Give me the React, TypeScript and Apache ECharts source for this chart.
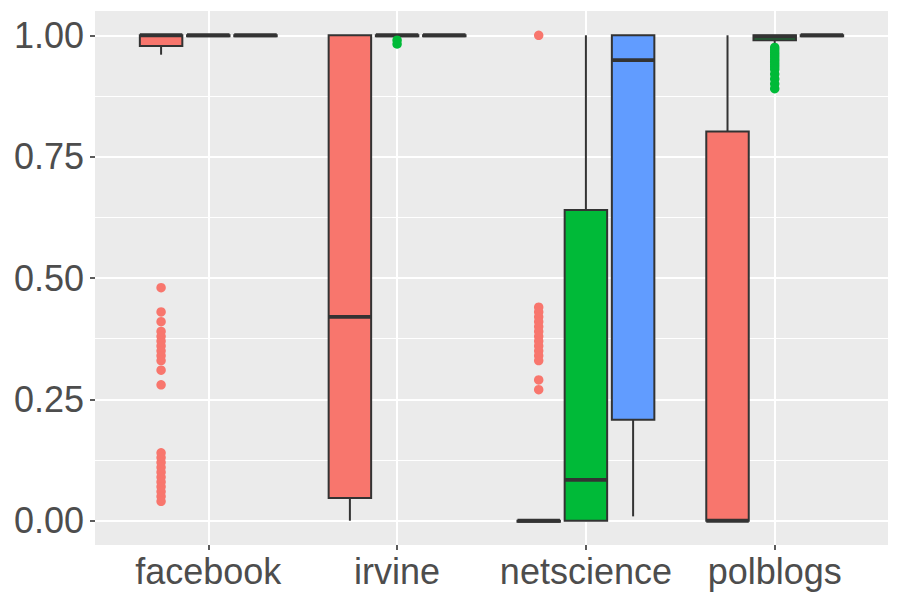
import React, { useEffect, useRef } from "react";
import * as echarts from "echarts";

const categories = ["facebook", "irvine", "netscience", "polblogs"];
const categoryPositions = [1, 2, 3, 4];
const groupColors = ["#F8766D", "#00BA38", "#619CFF"];
const yTicks = [0, 0.25, 0.5, 0.75, 1];
const yMinorTicks = [0.125, 0.375, 0.625, 0.875];

// [min, Q1, median, Q3, max] for each category
const redStats = [
  [0.96, 0.978, 1.0, 1.0, 1.0],
  [0.0, 0.047, 0.42, 1.0, 1.0],
  [0.0, 0.0, 0.0, 0.0, 0.0],
  [0.0, 0.0, 0.0, 0.802, 1.0],
];
const greenStats = [
  [1.0, 1.0, 1.0, 1.0, 1.0],
  [1.0, 1.0, 1.0, 1.0, 1.0],
  [0.0, 0.0, 0.084, 0.64, 1.0],
  [0.979, 0.99, 0.997, 1.0, 1.0],
];
const blueStats = [
  [1.0, 1.0, 1.0, 1.0, 1.0],
  [1.0, 1.0, 1.0, 1.0, 1.0],
  [0.009, 0.208, 0.949, 1.0, 1.0],
  [1.0, 1.0, 1.0, 1.0, 1.0],
];

// outliers for each category
const redOutliers = [
  [0.48, 0.43, 0.41, 0.39, 0.38, 0.37, 0.36, 0.35, 0.34, 0.33, 0.31, 0.28,
   0.14, 0.13, 0.12, 0.11, 0.10, 0.09, 0.08, 0.07, 0.06, 0.05, 0.04],
  [],
  [1.0, 0.44, 0.43, 0.42, 0.41, 0.40, 0.39, 0.38, 0.37, 0.36, 0.35, 0.34, 0.33, 0.29, 0.27],
  [],
];
const greenOutliers = [
  [],
  [0.99, 0.982],
  [],
  [0.975, 0.97, 0.965, 0.96, 0.955, 0.95, 0.945, 0.94, 0.935, 0.93, 0.92, 0.91, 0.90, 0.89],
];
const blueOutliers = [[], [], [], []];

const DODGE = [-0.25, 0, 0.25];
const BOX_W = 0.225;
const INK = "#333333";
const FONT = "Liberation Sans";

// panel layout (pixels) and axis ranges
const W = 900;
const H = 600;
const PANEL = { left: 95, right: 888, top: 11, bottom: 545 };
const X_RANGE = [0.4, 4.6];
const Y_RANGE = [-0.05, 1.05];

export default function App() {
  const ref = useRef<HTMLDivElement>(null);

  useEffect(() => {
    if (!ref.current) return;
    const chart = echarts.init(ref.current, null, { renderer: "svg" });

    const statsList = [redStats, greenStats, blueStats];
    const outList = [redOutliers, greenOutliers, blueOutliers];

    const xUnit = (PANEL.right - PANEL.left) / (X_RANGE[1] - X_RANGE[0]);
    const yUnit = (PANEL.bottom - PANEL.top) / (Y_RANGE[1] - Y_RANGE[0]);
    const xFirst = categoryPositions[0];
    const xLast = categoryPositions[categoryPositions.length - 1];
    const yFirst = yTicks[0];
    const yLast = yTicks[yTicks.length - 1];

    const gridSeries = {
      type: "scatter",
      name: "vgrid",
      data: [],
      silent: true,
      z: 1,
      markLine: {
        silent: true,
        z: 1,
        symbol: ["none", "none"],
        label: { show: false },
        emphasis: { disabled: true },
        lineStyle: { color: "#FFFFFF", width: 2, type: "solid" },
        data: categoryPositions.map((p) => ({ xAxis: p })),
      },
    };

    // invisible anchors so the tick-only axes have data
    const xTickAnchor = {
      type: "scatter",
      name: "xticks",
      xAxisIndex: 1,
      yAxisIndex: 2,
      data: categoryPositions.map((p) => [p, 0.5]),
      symbolSize: 0,
      silent: true,
      itemStyle: { opacity: 0 },
    };
    const yTickAnchor = {
      type: "scatter",
      name: "yticks",
      xAxisIndex: 2,
      yAxisIndex: 3,
      data: yTicks.map((v) => [0.5, v]),
      symbolSize: 0,
      silent: true,
      itemStyle: { opacity: 0 },
    };

    const boxSeries = statsList.map((stats, g) => ({
      type: "custom",
      name: "box" + g,
      xAxisIndex: 0,
      yAxisIndex: 0,
      encode: { x: 0, y: [1, 2, 3, 4, 5] },
      data: stats.map((s, i) => [categoryPositions[i] + DODGE[g], ...s]),
      z: 3,
      renderItem: (params: any, api: any) => {
        const x = api.value(0);
        const pMin = api.coord([x, api.value(1)]);
        const pQ1 = api.coord([x, api.value(2)]);
        const pMed = api.coord([x, api.value(3)]);
        const pQ3 = api.coord([x, api.value(4)]);
        const pMax = api.coord([x, api.value(5)]);
        const w = api.size([BOX_W, 0])[0];
        const cx = pMed[0];
        const h = Math.max(pQ1[1] - pQ3[1], 1);
        return {
          type: "group",
          children: [
            {
              type: "line",
              shape: { x1: cx, y1: pQ1[1], x2: cx, y2: pMin[1] },
              style: { stroke: INK, lineWidth: 2 },
            },
            {
              type: "line",
              shape: { x1: cx, y1: pQ3[1], x2: cx, y2: pMax[1] },
              style: { stroke: INK, lineWidth: 2 },
            },
            {
              type: "rect",
              shape: { x: cx - w / 2, y: pQ3[1], width: w, height: h },
              style: { fill: groupColors[g], stroke: INK, lineWidth: 2 },
            },
            {
              type: "line",
              shape: { x1: cx - w / 2, y1: pMed[1], x2: cx + w / 2, y2: pMed[1] },
              style: { stroke: INK, lineWidth: 3.8 },
            },
          ],
        };
      },
    }));

    const outlierSeries = outList.map((outs, g) => {
      const pts: number[][] = [];
      outs.forEach((arr, i) => arr.forEach((v) => pts.push([categoryPositions[i] + DODGE[g], v])));
      return {
        type: "scatter",
        name: "out" + g,
        xAxisIndex: 0,
        yAxisIndex: 0,
        data: pts,
        symbol: "circle",
        symbolSize: 9.5,
        itemStyle: { color: groupColors[g], opacity: 1 },
        z: 4,
      };
    });

    const tickStyle = { color: INK, width: 1.6 };
    const clearLine = { show: true, onZero: false, lineStyle: { color: "rgba(0,0,0,0)" } };

    const option: any = {
      animation: false,
      backgroundColor: "#FFFFFF",
      grid: [
        {
          left: PANEL.left,
          right: W - PANEL.right,
          top: PANEL.top,
          bottom: H - PANEL.bottom,
          show: true,
          backgroundColor: "#EBEBEB",
          borderWidth: 0,
          containLabel: false,
        },
        {
          left: PANEL.left + (xFirst - X_RANGE[0]) * xUnit,
          right: W - (PANEL.right - (X_RANGE[1] - xLast) * xUnit),
          top: PANEL.top,
          bottom: H - PANEL.bottom,
          show: false,
          containLabel: false,
        },
        {
          left: PANEL.left,
          right: W - PANEL.right,
          top: PANEL.top + (Y_RANGE[1] - yLast) * yUnit,
          bottom: H - (PANEL.bottom - (yFirst - Y_RANGE[0]) * yUnit),
          show: false,
          containLabel: false,
        },
      ],
      xAxis: [
        {
          gridIndex: 0,
          type: "value",
          min: X_RANGE[0],
          max: X_RANGE[1],
          position: "bottom",
          axisLine: { show: false, onZero: false },
          axisTick: { show: false },
          axisLabel: {
            customValues: categoryPositions,
            formatter: (v: number) => categories[Math.round(v) - 1] ?? "",
            color: "#4D4D4D",
            fontSize: 36,
            fontFamily: FONT,
            margin: 8,
          },
          splitLine: { show: false },
        },
        {
          gridIndex: 1,
          type: "value",
          min: xFirst,
          max: xLast,
          interval: 1,
          position: "bottom",
          axisLine: clearLine,
          axisTick: { show: true, inside: false, length: 5, lineStyle: tickStyle },
          axisLabel: { show: false },
          splitLine: { show: false },
        },
        {
          gridIndex: 2,
          type: "value",
          min: 0,
          max: 1,
          show: false,
        },
      ],
      yAxis: [
        {
          gridIndex: 0,
          type: "value",
          min: Y_RANGE[0],
          max: Y_RANGE[1],
          axisLine: { show: false, onZero: false },
          axisTick: { show: false, customValues: yTicks },
          axisLabel: {
            customValues: yTicks,
            formatter: (v: number) => v.toFixed(2),
            color: "#4D4D4D",
            fontSize: 36,
            fontFamily: FONT,
            margin: 11,
          },
          splitLine: { show: true, lineStyle: { color: "#FFFFFF", width: 2 } },
          z: 2,
        },
        {
          gridIndex: 0,
          type: "value",
          min: Y_RANGE[0],
          max: Y_RANGE[1],
          position: "left",
          axisLine: { show: false, onZero: false },
          axisTick: { show: false, customValues: yMinorTicks },
          axisLabel: { show: false, customValues: yMinorTicks },
          splitLine: { show: true, lineStyle: { color: "#FFFFFF", width: 1 } },
          z: 1,
        },
        {
          gridIndex: 1,
          type: "value",
          min: 0,
          max: 1,
          show: false,
        },
        {
          gridIndex: 2,
          type: "value",
          min: yFirst,
          max: yLast,
          interval: 0.25,
          position: "left",
          axisLine: clearLine,
          axisTick: { show: true, inside: false, length: 5, lineStyle: tickStyle },
          axisLabel: { show: false },
          splitLine: { show: false },
        },
      ],
      series: [gridSeries, xTickAnchor, yTickAnchor, ...boxSeries, ...outlierSeries],
    };

    chart.setOption(option);
    return () => chart.dispose();
  }, []);

  return <div ref={ref} style={{ width: W, height: H, position: "absolute", left: 0, top: 0 }} />;
}
